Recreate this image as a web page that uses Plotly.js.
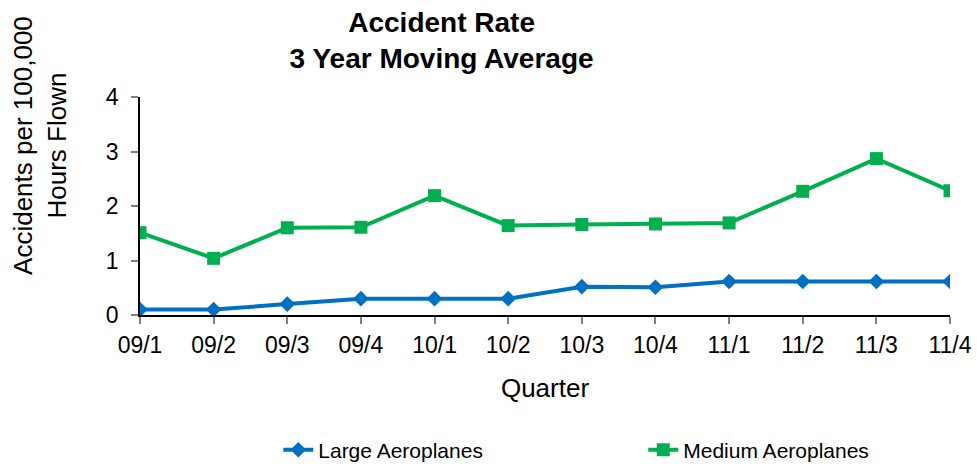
<!DOCTYPE html>
<html>
<head>
<meta charset="utf-8">
<script src="https://cdn.plot.ly/plotly-3.0.1.min.js"></script>
<style>html,body{margin:0;padding:0;background:#fff;}#chart{width:977px;height:464px;}</style>
</head>
<body>
<div id="chart"></div>
<script>
const quarters = ["09/1","09/2","09/3","09/4","10/1","10/2","10/3","10/4","11/1","11/2","11/3","11/4"];
const largeAeroplanes = [0.10,0.10,0.20,0.30,0.30,0.30,0.52,0.51,0.615,0.615,0.615,0.615];
const mediumAeroplanes = [1.51,1.04,1.60,1.61,2.19,1.64,1.66,1.67,1.69,2.27,2.87,2.28];
const yTicks = [0,1,2,3,4];

const FONT = "Liberation Sans, Arial, sans-serif";

const traces = [
  {x: quarters, y: largeAeroplanes, name: "Large Aeroplanes", type: "scatter", mode: "lines+markers",
   legend: "legend",
   line: {color: "#0070C0", width: 4}, marker: {symbol: "diamond", size: 12, color: "#0070C0"}},
  {x: quarters, y: mediumAeroplanes, name: "Medium Aeroplanes", type: "scatter", mode: "lines+markers",
   legend: "legend2",
   line: {color: "#00B050", width: 4}, marker: {symbol: "square", size: 13, color: "#00B050"}}
];

const legendBase = {orientation: "h", xref: "paper", yref: "container", xanchor: "left", y: 0.03, yanchor: "middle",
                    bgcolor: "rgba(0,0,0,0)", font: {family: FONT, size: 21, color: "#000"}};

const layout = {
  width: 977, height: 464,
  margin: {l: 140, r: 27, t: 97, b: 149},
  paper_bgcolor: "#fff", plot_bgcolor: "#fff",
  font: {family: FONT, color: "#000", size: 20},
  title: {text: "<b>Accident Rate<br>3 Year Moving Average</b>", xref: "container", yref: "container",
          x: 0.452, xanchor: "center", y: 0.932, yanchor: "top",
          font: {family: FONT, size: 28, color: "#000"}},
  xaxis: {type: "category", range: [0, 11], showgrid: false, zeroline: false,
          showline: true, linecolor: "#000", linewidth: 1.5,
          ticks: "outside", ticklen: 7, tickcolor: "#808080", tickwidth: 1.5, ticklabelstandoff: 2,
          tickfont: {family: FONT, size: 23, color: "#000"},
          title: {text: "Quarter", font: {family: FONT, size: 26, color: "#000"}, standoff: 21}},
  yaxis: {range: [0, 4], tickvals: yTicks, showgrid: false, zeroline: false,
          showline: true, linecolor: "#000", linewidth: 1.5,
          ticks: "outside", ticklen: 7, tickcolor: "#808080", tickwidth: 1.5, ticklabelstandoff: 8,
          tickfont: {family: FONT, size: 23, color: "#000"}},
  annotations: [{text: "Accidents per 100,000<br>Hours Flown", textangle: -90, xref: "paper", yref: "paper",
                 x: -0.1235, y: 0.78, xanchor: "center", yanchor: "middle", showarrow: false,
                 font: {family: FONT, size: 26, color: "#000"}}],
  showlegend: true,
  legend: Object.assign({}, legendBase, {x: 0.1707}),
  legend2: Object.assign({}, legendBase, {x: 0.6213})
};

Plotly.newPlot("chart", traces, layout, {displayModeBar: false});
</script>
</body>
</html>
